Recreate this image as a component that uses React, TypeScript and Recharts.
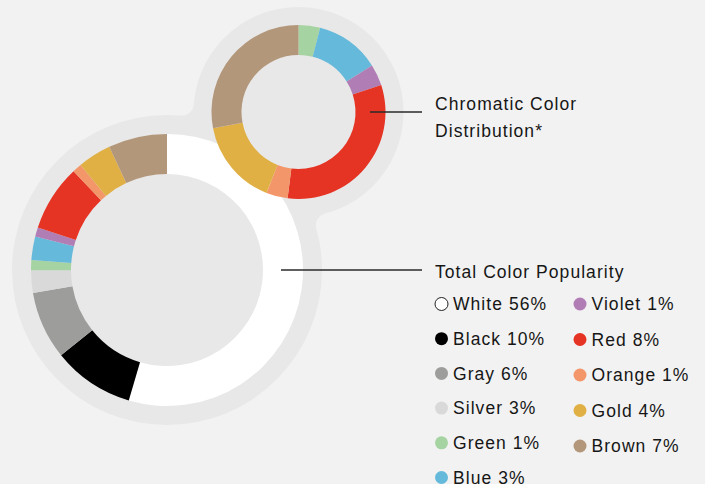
import React from 'react'
import { PieChart, Pie, Cell } from 'recharts'

// colours, in the order they run round the big ring (clockwise from 12 o'clock)
const colorNames = ['White', 'Black', 'Gray', 'Silver', 'Green', 'Blue', 'Violet', 'Red', 'Orange', 'Gold', 'Brown']
const colorHex = ['#ffffff', '#000000', '#9d9d9b', '#d9d9d9', '#a6d3a2', '#65b9da', '#b07db4', '#e63424', '#f39669', '#e1b044', '#b3977b']
// printed percentages (legend)
const legendPct = [56, 10, 6, 3, 1, 3, 1, 8, 1, 4, 7]
const totalShare = [54.7, 9.7, 8.1, 2.7, 1.2, 2.8, 1.1, 7.9, 1.1, 4.0, 7.0]

// chromatic colours only, small ring
const chromaticNames = ['Green', 'Blue', 'Violet', 'Red', 'Orange', 'Gold', 'Brown']
const chromaticShare = [1, 3, 1, 8, 1, 4, 7]

const W = 705
const H = 484
const BG = '#f2f2f2'
const RING_BG = '#e8e8e8'
const FONT = '"Liberation Sans", Arial, sans-serif'

const big = { x: 167, y: 270, inner: 96, outer: 136, halo: 155 }
const small = { x: 298.5, y: 112, inner: 57, outer: 87, halo: 105 }

// small concave fillet joining the two halo circles
function filletPath(c1: any, r1: number, c2: any, r2: number, rf: number, side: number) {
  const dx = c2.x - c1.x
  const dy = c2.y - c1.y
  const d = Math.hypot(dx, dy)
  const ux = dx / d
  const uy = dy / d
  const nx = -uy * side
  const ny = ux * side
  const a = r1 + rf
  const b = r2 + rf
  const t = (a * a - b * b + d * d) / (2 * d)
  const h = Math.sqrt(a * a - t * t)
  const px = c1.x + t * ux + h * nx
  const py = c1.y + t * uy + h * ny
  const t1x = c1.x + ((px - c1.x) * r1) / a
  const t1y = c1.y + ((py - c1.y) * r1) / a
  const t2x = c2.x + ((px - c2.x) * r2) / b
  const t2y = c2.y + ((py - c2.y) * r2) / b
  const z = (t1x - px) * (t2y - py) - (t1y - py) * (t2x - px)
  const sweep = z > 0 ? 1 : 0
  return `M${c1.x},${c1.y} L${t1x},${t1y} A${rf},${rf} 0 0 ${sweep} ${t2x},${t2y} L${c2.x},${c2.y} Z`
}

export default function App() {
  const totalData = colorNames.map((name, i) => ({ name, value: totalShare[i], fill: colorHex[i] }))
  const chromaticData = chromaticNames.map((name, i) => ({
    name,
    value: chromaticShare[i],
    fill: colorHex[colorNames.indexOf(name)],
  }))

  const textStyle = { fontFamily: FONT, fontSize: 17.5, letterSpacing: 1.05, fill: '#161616' }

  return (
    <div style={{ position: 'absolute', left: 0, top: 0, width: W, height: H, background: BG, overflow: 'hidden' }}>
      {/* grey halo behind both rings */}
      <svg width={W} height={H} style={{ position: 'absolute', left: 0, top: 0 }}>
        <circle cx={big.x} cy={big.y} r={big.halo} fill={RING_BG} />
        <circle cx={small.x} cy={small.y} r={small.halo} fill={RING_BG} />
        <path d={filletPath(big, big.halo, small, small.halo, 12, 1)} fill={RING_BG} />
        <path d={filletPath(big, big.halo, small, small.halo, 12, -1)} fill={RING_BG} />
      </svg>

      <div style={{ position: 'absolute', left: 0, top: 0 }}>
        <PieChart width={W} height={H} margin={{ top: 0, right: 0, bottom: 0, left: 0 }}>
          <Pie
            data={totalData}
            dataKey="value"
            cx={big.x}
            cy={big.y}
            innerRadius={big.inner}
            outerRadius={big.outer}
            startAngle={90}
            endAngle={-270}
            stroke="none"
            isAnimationActive={false}
          >
            {totalData.map((d, i) => (
              <Cell key={i} fill={d.fill} />
            ))}
          </Pie>
          <Pie
            data={chromaticData}
            dataKey="value"
            cx={small.x}
            cy={small.y}
            innerRadius={small.inner}
            outerRadius={small.outer}
            startAngle={90}
            endAngle={-270}
            stroke="none"
            isAnimationActive={false}
          >
            {chromaticData.map((d, i) => (
              <Cell key={i} fill={d.fill} />
            ))}
          </Pie>
        </PieChart>
      </div>

      {/* leader lines, titles, legend */}
      <svg width={W} height={H} style={{ position: 'absolute', left: 0, top: 0 }}>
        <line x1={370} y1={small.y} x2={422} y2={small.y} stroke="#2a2a2a" strokeWidth={1.5} />
        <line x1={281} y1={big.y} x2={422} y2={big.y} stroke="#2a2a2a" strokeWidth={1.5} />

        <text x={435} y={110} style={textStyle}>Chromatic Color</text>
        <text x={435} y={136.5} style={textStyle}>
          Distribution*
        </text>
        <text x={435} y={277.5} style={textStyle}>Total Color Popularity</text>

        {colorNames.map((name, i) => {
          const col = i < 6 ? 0 : 1
          const row = col ? i - 6 : i
          const cx = col ? 580 : 441.5
          const cy = 304 + row * (col ? 35.5 : 34.7)
          return (
            <g key={name}>
              <circle
                cx={cx}
                cy={cy}
                r={6.5}
                fill={colorHex[i]}
                stroke={name === 'White' ? '#222' : 'none'}
                strokeWidth={1}
              />
              <text x={cx + 11.5} y={cy + 6.3} style={textStyle}>
                {`${name} ${legendPct[i]}%`}
              </text>
            </g>
          )
        })}
      </svg>
    </div>
  )
}
